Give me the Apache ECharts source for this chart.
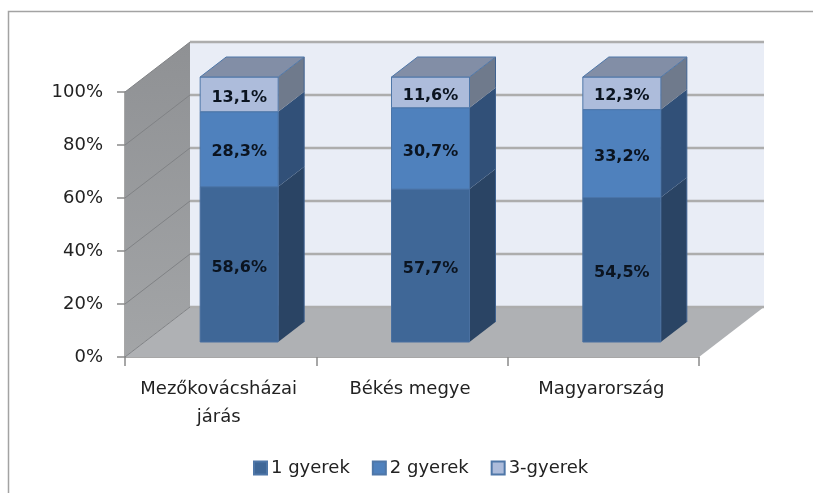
<!DOCTYPE html>
<html>
<head>
<meta charset="utf-8">
<style>html,body{margin:0;padding:0;background:#fff}#main{width:813px;height:493px}</style>
<script src="https://cdn.jsdelivr.net/npm/echarts@6/dist/echarts.min.js"></script>
</head>
<body>
<div id="main"></div>
<script>
var categories = ['Mezőkovácsházai\njárás', 'Békés megye', 'Magyarország'];
var gyerek1 = [58.6, 57.7, 54.5];
var gyerek2 = [28.3, 30.7, 33.2];
var gyerek3 = [13.1, 11.6, 12.3];
var yTicks = [0, 20, 40, 60, 80, 100];

var FONT = 'DejaVu Sans';
// depth of the fake 3D box and of the bars
var WALL_DX = 65, WALL_DY = 50;
var BAR_W = 78, BAR_DX = 26, BAR_DY = 20, BAR_OFF_X = 18.5, BAR_OFF_Y = 15;

function poly(points, fill, stroke, width) {
  return { type: 'polygon', shape: { points: points }, style: { fill: fill, stroke: stroke || null, lineWidth: width || 0 } };
}

function renderWalls(params, api) {
  var c = params.coordSys;
  var x0 = c.x, x1 = c.x + c.width;
  var yb = api.coord([0, 0])[1], yt = api.coord([0, 100])[1];
  var kids = [];
  kids.push(poly([[x0 + WALL_DX, yt - WALL_DY], [x1 + WALL_DX, yt - WALL_DY], [x1 + WALL_DX, yb - WALL_DY], [x0 + WALL_DX, yb - WALL_DY]], '#e9edf6'));
  kids.push(poly([[x0, yt], [x0 + WALL_DX, yt - WALL_DY], [x0 + WALL_DX, yb - WALL_DY], [x0, yb]], {
    type: 'linear', x: 0, y: 0, x2: 0, y2: 1,
    colorStops: [{ offset: 0, color: '#8f9194' }, { offset: 1, color: '#a3a5a7' }]
  }));
  kids.push(poly([[x0, yb], [x0 + WALL_DX, yb - WALL_DY], [x1 + WALL_DX, yb - WALL_DY], [x1, yb]], '#afb1b4'));
  yTicks.forEach(function (t) {
    var y = api.coord([0, t])[1];
    kids.push({ type: 'line', shape: { x1: x0, y1: y, x2: x0 + WALL_DX, y2: y - WALL_DY }, style: { stroke: '#808285', lineWidth: 1 } });
    kids.push({ type: 'line', shape: { x1: x0 + WALL_DX, y1: y - WALL_DY, x2: x1 + WALL_DX, y2: y - WALL_DY }, style: { stroke: '#adadad', lineWidth: 2.5 } });
  });
  return { type: 'group', children: kids };
}

function barRenderer(front, side, top, edge, hasTop) {
  return function (params, api) {
    var i = api.value(0);
    var cx = api.coord([i, 0])[0] + BAR_OFF_X;
    var y0 = api.coord([i, api.value(1)])[1] - BAR_OFF_Y;
    var y1 = api.coord([i, api.value(2)])[1] - BAR_OFF_Y;
    var l = cx - BAR_W / 2, r = cx + BAR_W / 2;
    var kids = [
      poly([[r, y0], [r + BAR_DX, y0 - BAR_DY], [r + BAR_DX, y1 - BAR_DY], [r, y1]], side),
      { type: 'line', shape: { x1: r + BAR_DX, y1: y0 - BAR_DY, x2: r + BAR_DX, y2: y1 - BAR_DY }, style: { stroke: '#3f6290', lineWidth: 1 } },
      poly([[l, y0], [r, y0], [r, y1], [l, y1]], front, edge, 1)
    ];
    if (hasTop) {
      kids.push(poly([[l, y1], [l + BAR_DX, y1 - BAR_DY], [r + BAR_DX, y1 - BAR_DY], [r, y1]], top, edge, 1));
    }
    kids.push({
      type: 'text', z2: 10,
      style: {
        x: cx, y: (y0 + y1) / 2 + 3,
        text: api.value(3).toFixed(1).replace('.', ',') + '%',
        align: 'center', verticalAlign: 'middle',
        font: 'bold 16px "' + FONT + '"', fill: '#0b1420'
      }
    });
    return { type: 'group', children: kids };
  };
}

function stackData(values, below) {
  return values.map(function (v, i) {
    var base = below.reduce(function (s, a) { return s + a[i]; }, 0);
    return [i, base, base + v, v];
  });
}

var option = {
  animation: false,
  backgroundColor: '#fff',
  graphic: [
    { type: 'polyline', silent: true, shape: { points: [[8.5, 493], [8.5, 11.5], [813, 11.5]] }, style: { stroke: '#a3a3a3', lineWidth: 1.5, fill: null } }
  ],
  legend: {
    data: ['1 gyerek', '2 gyerek', '3-gyerek'],
    left: 248, top: 454,
    icon: 'rect', itemWidth: 13, itemHeight: 13, itemGap: 22,
    textStyle: { fontFamily: FONT, fontSize: 18, color: '#222', padding: [0, 0, 0, -1] }
  },
  grid: { left: 125, right: 114, top: 92, bottom: 136 },
  xAxis: {
    type: 'category', data: categories,
    axisLine: { lineStyle: { color: '#8a8a8a', width: 1.5 } },
    axisTick: { show: true, length: 9, alignWithLabel: false, lineStyle: { color: '#8a8a8a', width: 1.5 } },
    axisLabel: { fontFamily: FONT, fontSize: 18, color: '#222', lineHeight: 28, margin: 18, interval: 0, padding: [0, 4, 0, 0] }
  },
  yAxis: {
    type: 'value', min: 0, max: 100, interval: 20,
    axisLine: { show: true, lineStyle: { color: '#8a8a8a', width: 1.5 } },
    axisTick: { show: true, length: 8, lineStyle: { color: '#8a8a8a', width: 1.5 } },
    splitLine: { show: false },
    axisLabel: { fontFamily: FONT, fontSize: 18, color: '#222', margin: 22, formatter: '{value}%', padding: [18, 0, 0, 0] }
  },
  series: [
    { type: 'custom', name: 'walls', silent: true, renderItem: renderWalls, data: [[0, 0]], encode: { x: 0, y: 1 } },
    {
      type: 'custom', name: '1 gyerek', renderItem: barRenderer('#3f6797', '#2a4464', null, '#4a70a0', false),
      itemStyle: { color: '#3f6797', borderColor: '#4f77a8', borderWidth: 1 },
      data: stackData(gyerek1, []), encode: { x: 0, y: [1, 2] }
    },
    {
      type: 'custom', name: '2 gyerek', renderItem: barRenderer('#4f81bd', '#315078', null, '#4a74a8', false),
      itemStyle: { color: '#4f81bd', borderColor: '#4f77a8', borderWidth: 1 },
      data: stackData(gyerek2, [gyerek1]), encode: { x: 0, y: [1, 2] }
    },
    {
      type: 'custom', name: '3-gyerek', renderItem: barRenderer('#adbcdb', '#6f7a8c', '#828ea6', '#4f77a8', true),
      itemStyle: { color: '#adbcdb', borderColor: '#4f77a8', borderWidth: 1.5 },
      data: stackData(gyerek3, [gyerek1, gyerek2]), encode: { x: 0, y: [1, 2] }
    }
  ]
};
var myChart = echarts.init(document.getElementById('main'));
myChart.setOption(option);
</script>
</body>
</html>
